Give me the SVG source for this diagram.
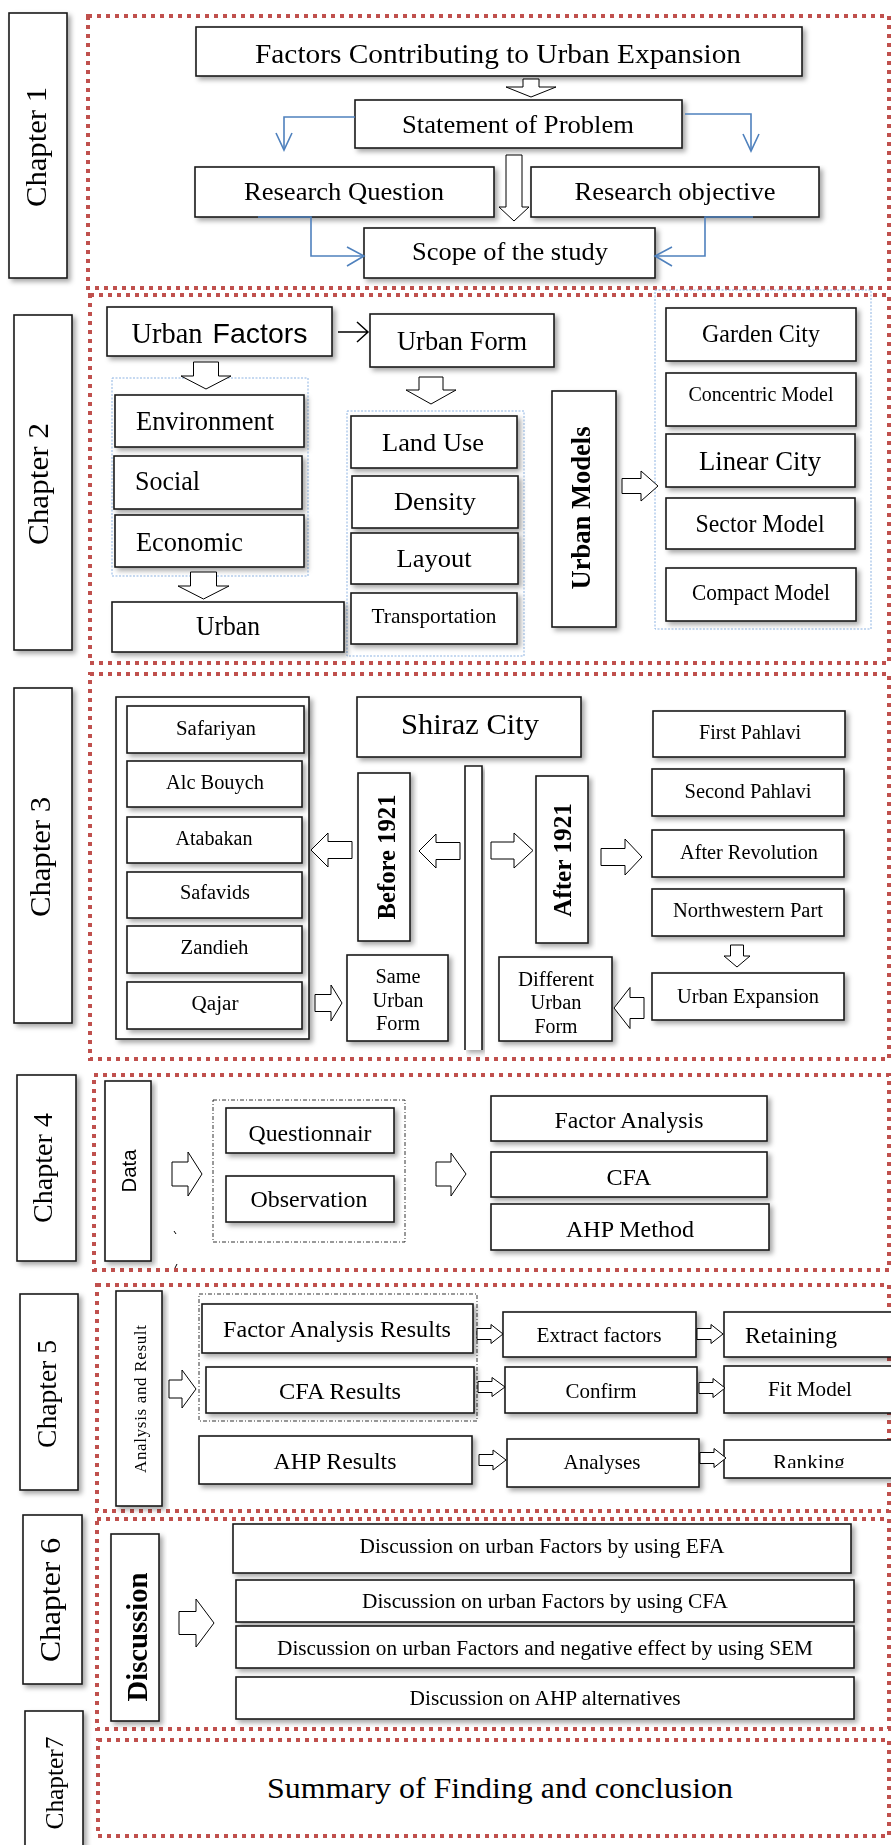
<svg xmlns="http://www.w3.org/2000/svg" width="891" height="1845" viewBox="0 0 891 1845">
<style>
.frame{fill:none;stroke:#C0504D;stroke-width:4;stroke-dasharray:4 5}
.box{fill:#fff;stroke:#1a1a1a;stroke-width:1.6}
.t{font-family:"Liberation Serif","Times New Roman",serif;fill:#000;text-anchor:middle}
.ts{font-family:"Liberation Sans",Arial,sans-serif;fill:#000;text-anchor:middle}
.b{font-weight:bold}
.blk{fill:#fff;stroke:#000;stroke-width:1}
.blue{fill:none;stroke:#4F81BD;stroke-width:1.6}
.bdot{fill:none;stroke:#8DB3E2;stroke-width:1;stroke-dasharray:2 1.5}
.dd{fill:none;stroke:#000;stroke-width:0.8;stroke-dasharray:4 2 1 2}
.ln{fill:none;stroke:#000;stroke-width:1.5}
</style>
<defs>
<filter id="sh" x="-10%" y="-10%" width="125%" height="130%">
<feGaussianBlur in="SourceAlpha" stdDeviation="2.5"/>
<feOffset dx="3" dy="3" result="o"/>
<feFlood flood-color="#000" flood-opacity="0.35"/>
<feComposite in2="o" operator="in"/>
<feMerge><feMergeNode/><feMergeNode in="SourceGraphic"/></feMerge>
</filter>
<clipPath id="clipRank"><rect x="724" y="1440" width="180" height="28"/></clipPath>
</defs>
<rect width="891" height="1845" fill="#fff"/>

<g id="frames">
<rect class="frame" x="88" y="16" width="801" height="272"/>
<rect class="frame" x="90" y="295" width="799" height="368"/>
<rect class="frame" x="90" y="674" width="799" height="385"/>
<rect class="frame" x="94" y="1075" width="795" height="195"/>
<rect class="frame" x="97" y="1285" width="792" height="226"/>
<rect class="frame" x="97" y="1519" width="792" height="210"/>
<rect class="frame" x="98" y="1740" width="791" height="96"/>
</g>

<g id="containers">
<rect class="bdot" x="112" y="378" width="196" height="198"/>
<rect class="bdot" x="347" y="411" width="177" height="245"/>
<rect class="bdot" x="655" y="290" width="216" height="339"/>
<rect class="dd" x="213" y="1100" width="192" height="142"/>
<rect class="dd" x="199" y="1294" width="278" height="127"/>
</g>

<!-- Chapter labels -->
<g id="ch1-label" filter="url(#sh)"><rect class="box" x="9" y="13" width="58" height="265"/><text class="t" font-size="30" textLength="120" lengthAdjust="spacingAndGlyphs" transform="translate(46,147) rotate(-90)">Chapter 1</text></g>
<g id="ch2-label" filter="url(#sh)"><rect class="box" x="14" y="315" width="58" height="335"/><text class="t" font-size="30" textLength="122" lengthAdjust="spacingAndGlyphs" transform="translate(48,484) rotate(-90)">Chapter 2</text></g>
<g id="ch3-label" filter="url(#sh)"><rect class="box" x="14" y="688" width="58" height="335"/><text class="t" font-size="30" textLength="120" lengthAdjust="spacingAndGlyphs" transform="translate(50,857) rotate(-90)">Chapter 3</text></g>
<g id="ch4-label" filter="url(#sh)"><rect class="box" x="17" y="1075" width="59" height="186"/><text class="t" font-size="28" textLength="110" lengthAdjust="spacingAndGlyphs" transform="translate(52,1168) rotate(-90)">Chapter 4</text></g>
<g id="ch5-label" filter="url(#sh)"><rect class="box" x="20" y="1294" width="58" height="196"/><text class="t" font-size="28" textLength="108" lengthAdjust="spacingAndGlyphs" transform="translate(56,1394) rotate(-90)">Chapter 5</text></g>
<g id="ch6-label" filter="url(#sh)"><rect class="box" x="23" y="1515" width="59" height="169"/><text class="t" font-size="30" textLength="124" lengthAdjust="spacingAndGlyphs" transform="translate(60,1600) rotate(-90)">Chapter 6</text></g>
<g id="ch7-label" filter="url(#sh)"><rect class="box" x="25" y="1711" width="58" height="150"/><text class="t" font-size="26" textLength="93" lengthAdjust="spacingAndGlyphs" transform="translate(63,1783) rotate(-90)">Chapter7</text></g>

<!-- Chapter 1 -->
<g id="n-factors-contributing" filter="url(#sh)"><rect class="box" x="196" y="27" width="606" height="49"/><text class="t" x="498" y="63" font-size="28" textLength="486" lengthAdjust="spacingAndGlyphs">Factors Contributing to Urban Expansion</text></g>
<g id="n-statement" filter="url(#sh)"><rect class="box" x="355" y="100" width="327" height="48"/><text class="t" x="518" y="133" font-size="26" textLength="232" lengthAdjust="spacingAndGlyphs">Statement of Problem</text></g>
<g id="n-research-question" filter="url(#sh)"><rect class="box" x="195" y="167" width="299" height="50"/><text class="t" x="344" y="200" font-size="25" textLength="200" lengthAdjust="spacingAndGlyphs">Research Question</text></g>
<g id="n-research-objective" filter="url(#sh)"><rect class="box" x="531" y="167" width="288" height="50"/><text class="t" x="675" y="200" font-size="25" textLength="201" lengthAdjust="spacingAndGlyphs">Research objective</text></g>
<g id="n-scope" filter="url(#sh)"><rect class="box" x="364" y="228" width="291" height="50"/><text class="t" x="510" y="260" font-size="25" textLength="196" lengthAdjust="spacingAndGlyphs">Scope of the study</text></g>

<!-- Chapter 2 -->
<g id="n-urban-factors" filter="url(#sh)"><rect class="box" x="107" y="307" width="225" height="49"/><text class="t" x="167" y="343" font-size="29" textLength="71" lengthAdjust="spacingAndGlyphs">Urban</text><text class="ts" x="260" y="343" font-size="28" textLength="95" lengthAdjust="spacingAndGlyphs">Factors</text></g>
<g id="n-urban-form" filter="url(#sh)"><rect class="box" x="370" y="314" width="184" height="53"/><text class="t" x="462" y="350" font-size="27" textLength="130" lengthAdjust="spacingAndGlyphs">Urban Form</text></g>
<g id="n-environment" filter="url(#sh)"><rect class="box" x="115" y="395" width="189" height="52"/><text class="t" x="205" y="430" font-size="27" textLength="138" lengthAdjust="spacingAndGlyphs">Environment</text></g>
<g id="n-social" filter="url(#sh)"><rect class="box" x="114" y="456" width="188" height="53"/><text class="t" x="167.5" y="490" font-size="27" textLength="65" lengthAdjust="spacingAndGlyphs">Social</text></g>
<g id="n-economic" filter="url(#sh)"><rect class="box" x="115" y="515" width="189" height="52"/><text class="t" x="189.5" y="551" font-size="27" textLength="107" lengthAdjust="spacingAndGlyphs">Economic</text></g>
<g id="n-urban" filter="url(#sh)"><rect class="box" x="112" y="602" width="232" height="50"/><text class="t" x="228" y="635" font-size="27" textLength="64" lengthAdjust="spacingAndGlyphs">Urban</text></g>
<g id="n-land-use" filter="url(#sh)"><rect class="box" x="351" y="416" width="166" height="52"/><text class="t" x="433" y="451" font-size="26" textLength="102" lengthAdjust="spacingAndGlyphs">Land Use</text></g>
<g id="n-density" filter="url(#sh)"><rect class="box" x="352" y="476" width="166" height="52"/><text class="t" x="435" y="510" font-size="26" textLength="82" lengthAdjust="spacingAndGlyphs">Density</text></g>
<g id="n-layout" filter="url(#sh)"><rect class="box" x="351" y="533" width="167" height="51"/><text class="t" x="434" y="567" font-size="26" textLength="75" lengthAdjust="spacingAndGlyphs">Layout</text></g>
<g id="n-transportation" filter="url(#sh)"><rect class="box" x="351" y="593" width="166" height="51"/><text class="t" x="434" y="623" font-size="21" textLength="125" lengthAdjust="spacingAndGlyphs">Transportation</text></g>
<g id="n-urban-models" filter="url(#sh)"><rect class="box" x="552" y="391" width="64" height="236"/><text class="t b" font-size="28" textLength="163" lengthAdjust="spacingAndGlyphs" transform="translate(590,508) rotate(-90)">Urban Models</text></g>
<g id="n-garden-city" filter="url(#sh)"><rect class="box" x="666" y="308" width="190" height="53"/><text class="t" x="761" y="342" font-size="25" textLength="118" lengthAdjust="spacingAndGlyphs">Garden City</text></g>
<g id="n-concentric" filter="url(#sh)"><rect class="box" x="666" y="373" width="190" height="53"/><text class="t" x="761" y="401" font-size="21" textLength="145" lengthAdjust="spacingAndGlyphs">Concentric Model</text></g>
<g id="n-linear-city" filter="url(#sh)"><rect class="box" x="666" y="434" width="189" height="53"/><text class="t" x="760" y="470" font-size="28" textLength="122" lengthAdjust="spacingAndGlyphs">Linear City</text></g>
<g id="n-sector" filter="url(#sh)"><rect class="box" x="666" y="498" width="189" height="51"/><text class="t" x="760" y="532" font-size="25" textLength="129" lengthAdjust="spacingAndGlyphs">Sector Model</text></g>
<g id="n-compact" filter="url(#sh)"><rect class="box" x="666" y="568" width="190" height="53"/><text class="t" x="761" y="600" font-size="23" textLength="138" lengthAdjust="spacingAndGlyphs">Compact Model</text></g>

<!-- Chapter 3 -->
<g id="n-periods" filter="url(#sh)"><rect class="box" x="116" y="697" width="193" height="342"/></g>
<g id="n-safariyan" filter="url(#sh)"><rect class="box" x="127" y="706" width="177" height="47"/><text class="t" x="216" y="735" font-size="20" textLength="80" lengthAdjust="spacingAndGlyphs">Safariyan</text></g>
<g id="n-alc-bouych" filter="url(#sh)"><rect class="box" x="127" y="761" width="175" height="46"/><text class="t" x="215" y="789" font-size="20" textLength="98" lengthAdjust="spacingAndGlyphs">Alc Bouych</text></g>
<g id="n-atabakan" filter="url(#sh)"><rect class="box" x="127" y="817" width="175" height="46"/><text class="t" x="214" y="845" font-size="20" textLength="77" lengthAdjust="spacingAndGlyphs">Atabakan</text></g>
<g id="n-safavids" filter="url(#sh)"><rect class="box" x="127" y="872" width="175" height="46"/><text class="t" x="215" y="899" font-size="20" textLength="70" lengthAdjust="spacingAndGlyphs">Safavids</text></g>
<g id="n-zandieh" filter="url(#sh)"><rect class="box" x="127" y="926" width="175" height="47"/><text class="t" x="214.5" y="954" font-size="20" textLength="68" lengthAdjust="spacingAndGlyphs">Zandieh</text></g>
<g id="n-qajar" filter="url(#sh)"><rect class="box" x="127" y="982" width="175" height="47"/><text class="t" x="215" y="1010" font-size="20" textLength="47" lengthAdjust="spacingAndGlyphs">Qajar</text></g>
<g id="n-shiraz" filter="url(#sh)"><rect class="box" x="357" y="697" width="224" height="60"/><text class="t" x="470" y="734" font-size="29" textLength="138" lengthAdjust="spacingAndGlyphs">Shiraz City</text></g>
<g id="n-timeline" filter="url(#sh)"><path class="box" d="M465,1050 V766 H482 V1050"/></g>
<g id="n-before-1921" filter="url(#sh)"><rect class="box" x="358" y="773" width="52" height="168"/><text class="t b" font-size="25" textLength="125" lengthAdjust="spacingAndGlyphs" transform="translate(395,857) rotate(-90)">Before 1921</text></g>
<g id="n-after-1921" filter="url(#sh)"><rect class="box" x="536" y="776" width="52" height="167"/><text class="t b" font-size="25" textLength="114" lengthAdjust="spacingAndGlyphs" transform="translate(571,860) rotate(-90)">After 1921</text></g>
<g id="n-first-pahlavi" filter="url(#sh)"><rect class="box" x="653" y="711" width="192" height="46"/><text class="t" x="750" y="739" font-size="20" textLength="102" lengthAdjust="spacingAndGlyphs">First Pahlavi</text></g>
<g id="n-second-pahlavi" filter="url(#sh)"><rect class="box" x="652" y="769" width="192" height="47"/><text class="t" x="748" y="798" font-size="20" textLength="127" lengthAdjust="spacingAndGlyphs">Second Pahlavi</text></g>
<g id="n-after-revolution" filter="url(#sh)"><rect class="box" x="652" y="830" width="192" height="47"/><text class="t" x="749" y="859" font-size="20" textLength="138" lengthAdjust="spacingAndGlyphs">After Revolution</text></g>
<g id="n-northwestern" filter="url(#sh)"><rect class="box" x="652" y="889" width="192" height="47"/><text class="t" x="748" y="917" font-size="20" textLength="150" lengthAdjust="spacingAndGlyphs">Northwestern Part</text></g>
<g id="n-urban-expansion" filter="url(#sh)"><rect class="box" x="652" y="973" width="192" height="47"/><text class="t" x="748" y="1003" font-size="20" textLength="142" lengthAdjust="spacingAndGlyphs">Urban Expansion</text></g>
<g id="n-same-urban-form" filter="url(#sh)"><rect class="box" x="347" y="955" width="101" height="86"/><text class="t" x="398" y="983" font-size="20" textLength="45" lengthAdjust="spacingAndGlyphs">Same</text><text class="t" x="398" y="1007" font-size="20" textLength="51" lengthAdjust="spacingAndGlyphs">Urban</text><text class="t" x="398" y="1030" font-size="20" textLength="44" lengthAdjust="spacingAndGlyphs">Form</text></g>
<g id="n-different-urban-form" filter="url(#sh)"><rect class="box" x="499" y="957" width="113" height="84"/><text class="t" x="556" y="986" font-size="20" textLength="76" lengthAdjust="spacingAndGlyphs">Different</text><text class="t" x="556" y="1009" font-size="20" textLength="51" lengthAdjust="spacingAndGlyphs">Urban</text><text class="t" x="556" y="1033" font-size="20" textLength="43" lengthAdjust="spacingAndGlyphs">Form</text></g>

<!-- Chapter 4 -->
<g id="n-data" filter="url(#sh)"><rect class="box" x="105" y="1081" width="46" height="180"/><text class="ts" font-size="20" textLength="43" lengthAdjust="spacingAndGlyphs" transform="translate(136,1171) rotate(-90)">Data</text></g>
<g id="n-questionnair" filter="url(#sh)"><rect class="box" x="226" y="1108" width="168" height="45"/><text class="t" x="310" y="1141" font-size="23" textLength="123" lengthAdjust="spacingAndGlyphs">Questionnair</text></g>
<g id="n-observation" filter="url(#sh)"><rect class="box" x="226" y="1176" width="168" height="46"/><text class="t" x="309" y="1207" font-size="23" textLength="117" lengthAdjust="spacingAndGlyphs">Observation</text></g>
<g id="n-factor-analysis" filter="url(#sh)"><rect class="box" x="491" y="1096" width="276" height="45"/><text class="t" x="629" y="1128" font-size="23" textLength="149" lengthAdjust="spacingAndGlyphs">Factor Analysis</text></g>
<g id="n-cfa" filter="url(#sh)"><rect class="box" x="491" y="1152" width="276" height="45"/><text class="t" x="629" y="1185" font-size="23" textLength="45" lengthAdjust="spacingAndGlyphs">CFA</text></g>
<g id="n-ahp-method" filter="url(#sh)"><rect class="box" x="491" y="1204" width="278" height="46"/><text class="t" x="630" y="1237" font-size="23" textLength="128" lengthAdjust="spacingAndGlyphs">AHP Method</text></g>

<!-- Chapter 5 -->
<g id="n-analysis-result" filter="url(#sh)"><rect class="box" x="116" y="1291" width="46" height="215"/><text class="t" font-size="17" textLength="148" lengthAdjust="spacing" transform="translate(146,1399) rotate(-90)">Analysis and Result</text></g>
<g id="n-far" filter="url(#sh)"><rect class="box" x="202" y="1304" width="271" height="49"/><text class="t" x="337" y="1337" font-size="23" textLength="228" lengthAdjust="spacingAndGlyphs">Factor Analysis Results</text></g>
<g id="n-cfa-results" filter="url(#sh)"><rect class="box" x="206" y="1367" width="268" height="46"/><text class="t" x="340" y="1399" font-size="23" textLength="122" lengthAdjust="spacingAndGlyphs">CFA Results</text></g>
<g id="n-ahp-results" filter="url(#sh)"><rect class="box" x="199" y="1436" width="273" height="48"/><text class="t" x="335" y="1469" font-size="23" textLength="123" lengthAdjust="spacingAndGlyphs">AHP Results</text></g>
<g id="n-extract" filter="url(#sh)"><rect class="box" x="503" y="1312" width="193" height="45"/><text class="t" x="599" y="1342" font-size="20" textLength="125" lengthAdjust="spacingAndGlyphs">Extract factors</text></g>
<g id="n-confirm" filter="url(#sh)"><rect class="box" x="505" y="1367" width="192" height="46"/><text class="t" x="601" y="1398" font-size="21" textLength="71" lengthAdjust="spacingAndGlyphs">Confirm</text></g>
<g id="n-analyses" filter="url(#sh)"><rect class="box" x="507" y="1439" width="192" height="48"/><text class="t" x="602" y="1469" font-size="21" textLength="77" lengthAdjust="spacingAndGlyphs">Analyses</text></g>
<g id="n-retaining" filter="url(#sh)"><rect class="box" x="724" y="1312" width="180" height="45"/><text class="t" x="791" y="1343" font-size="23" textLength="92" lengthAdjust="spacingAndGlyphs">Retaining</text></g>
<g id="n-fit-model" filter="url(#sh)"><rect class="box" x="724" y="1366" width="180" height="47"/><text class="t" x="810" y="1396" font-size="22" textLength="84" lengthAdjust="spacingAndGlyphs">Fit Model</text></g>
<g id="n-ranking" filter="url(#sh)"><rect class="box" x="724" y="1440" width="180" height="38"/><text class="t" x="809" y="1469" font-size="22" textLength="72" lengthAdjust="spacingAndGlyphs" clip-path="url(#clipRank)">Ranking</text></g>

<!-- Chapter 6 -->
<g id="n-discussion" filter="url(#sh)"><rect class="box" x="111" y="1534" width="48" height="187"/><text class="t b" font-size="29" textLength="129" lengthAdjust="spacingAndGlyphs" transform="translate(147,1637) rotate(-90)">Discussion</text></g>
<g id="n-disc-efa" filter="url(#sh)"><rect class="box" x="233" y="1524" width="618" height="49"/><text class="t" x="542" y="1553" font-size="20" textLength="365" lengthAdjust="spacingAndGlyphs">Discussion on urban Factors by using EFA</text></g>
<g id="n-disc-cfa" filter="url(#sh)"><rect class="box" x="236" y="1580" width="618" height="42"/><text class="t" x="545" y="1608" font-size="20" textLength="366" lengthAdjust="spacingAndGlyphs">Discussion on urban Factors by using CFA</text></g>
<g id="n-disc-sem" filter="url(#sh)"><rect class="box" x="236" y="1626" width="618" height="42"/><text class="t" x="545" y="1655" font-size="20" textLength="536" lengthAdjust="spacingAndGlyphs">Discussion on urban Factors and negative effect by using SEM</text></g>
<g id="n-disc-ahp" filter="url(#sh)"><rect class="box" x="236" y="1677" width="618" height="42"/><text class="t" x="545" y="1705" font-size="20" textLength="271" lengthAdjust="spacingAndGlyphs">Discussion on AHP alternatives</text></g>

<!-- Chapter 7 -->
<g id="n-summary"><text class="t" x="500" y="1798" font-size="29" textLength="466" lengthAdjust="spacingAndGlyphs">Summary of Finding and conclusion</text></g>

<!-- Connectors -->
<g id="connectors">
<polygon class="blk" points="523,79 539,79 539,87 556,87 531,97 506,87 523,87"/>
<polygon class="blk" points="506,155 522,155 522,207 529,207 514,221 499,207 506,207"/>
<path class="blue" d="M355,117 H284 V149"/>
<path class="blue" d="M276,133 L284,150 L292,133"/>
<path class="blue" d="M685,114 H751 V150"/>
<path class="blue" d="M743,134 L751,151 L759,134"/>
<path class="blue" d="M258,217 H311 V256 H363"/>
<path class="blue" d="M347,247 L364,256 L347,266"/>
<path class="blue" d="M753,217 H705 V256 H656"/>
<path class="blue" d="M672,247 L655,256 L672,266"/>

<path class="ln" d="M338,332 H367 M357,322 L368,332 L357,342"/>
<polygon class="blk" points="193.5,362 218.5,362 218.5,376 231,376 206,389 181,376 193.5,376"/>
<polygon class="blk" points="190.5,572 216.5,572 216.5,586 229,586 203.5,599 178,586 190.5,586"/>
<polygon class="blk" points="419,377 443,377 443,390 456,390 431,404 406,390 419,390"/>
<polygon class="blk" points="622,478.5 641,478.5 641,471 658,486 641,501 641,493.5 622,493.5"/>

<polygon class="blk" points="352,841.5 328,841.5 328,833 311,850 328,867 328,858.5 352,858.5"/>
<polygon class="blk" points="460,842.5 436,842.5 436,834 419,851 436,868 436,859.5 460,859.5"/>
<polygon class="blk" points="491,842 514,842 514,833 533,850.5 514,868 514,859 491,859"/>
<polygon class="blk" points="601,848.5 625,848.5 625,839 642,857 625,875 625,865.5 601,865.5"/>
<polygon class="blk" points="730.5,945 743.5,945 743.5,956 750,956 737,967 724,956 730.5,956"/>
<polygon class="blk" points="315,994.5 331,994.5 331,985 342,1003 331,1021 331,1011.5 315,1011.5"/>
<polygon class="blk" points="644,997.5 630,997.5 630,987.5 614,1008 630,1028.5 630,1018.5 644,1018.5"/>

<polygon class="blk" points="172,1162 188,1162 188,1152 202,1174 188,1196 188,1186 172,1186"/>
<polygon class="blk" points="436,1162 451,1162 451,1153 466,1174 451,1196 451,1186 436,1186"/>
<path d="M174,1231 L176,1234 M177,1264 L175,1268" stroke="#000" stroke-width="1" fill="none"/>

<polygon class="blk" points="169,1380 182,1380 182,1370 196,1389 182,1408 182,1398 169,1398"/>
<polygon class="blk" points="477,1328.5 491,1328.5 491,1324.5 503,1334 491,1343.5 491,1339.5 477,1339.5"/>
<polygon class="blk" points="478,1381.5 492,1381.5 492,1377.5 505,1387 492,1396.5 492,1392.5 478,1392.5"/>
<polygon class="blk" points="479,1454.5 493,1454.5 493,1450 506,1460 493,1470 493,1465.5 479,1465.5"/>
<polygon class="blk" points="697,1328.5 711,1328.5 711,1324.5 723,1334 711,1343.5 711,1339.5 697,1339.5"/>
<polygon class="blk" points="699,1382.5 713,1382.5 713,1378.5 725,1388 713,1397.5 713,1393.5 699,1393.5"/>
<polygon class="blk" points="700,1452.5 714,1452.5 714,1448.5 726,1458 714,1467.5 714,1463.5 700,1463.5"/>

<polygon class="blk" points="179,1611.5 196,1611.5 196,1599 214,1623 196,1647 196,1634.5 179,1634.5"/>
</g>
</svg>
